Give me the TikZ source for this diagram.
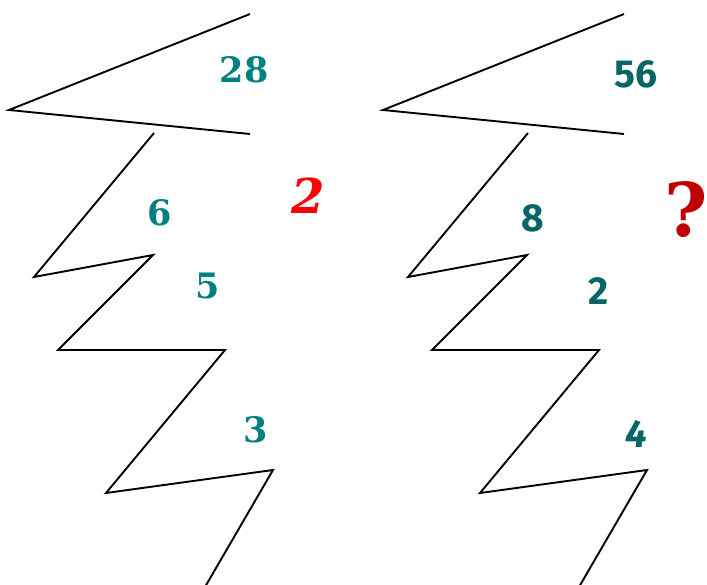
\documentclass[tikz,border=0pt]{standalone}
\usepackage{fontspec}
\setmainfont{DejaVu Serif}
\newfontfamily\rightfont{Fira Sans}
\definecolor{tealL}{HTML}{008080}
\definecolor{tealR}{HTML}{0A6666}
\definecolor{redA}{HTML}{FF0000}
\definecolor{redB}{HTML}{C00000}
\tikzset{
  zig/.style={draw=black, line width=1.9pt, line join=miter},
  numL/.style={text=tealL, font=\fontsize{35}{35}\selectfont\bfseries, inner sep=0pt},
  numR/.style={text=tealR, font=\rightfont\fontsize{39}{39}\selectfont\bfseries, inner sep=0pt},
}
\begin{document}
\begin{tikzpicture}[x=1pt,y=-1pt]
\useasboundingbox[fill=white] (0,0) rectangle (707,585);
% left figure
\coordinate (a1) at (250,14);
\coordinate (a2) at (9,110);
\coordinate (a3) at (250,134);
\draw[zig] (a1) -- (a2) -- (a3);
\coordinate (b1) at (154,133);
\coordinate (b2) at (34,277);
\coordinate (b3) at (153,255);
\coordinate (b4) at (58,350);
\coordinate (b5) at (225,350);
\coordinate (b6) at (106,493);
\coordinate (b7) at (273,470);
\coordinate (b8) at (205,587);
\draw[zig] (b1) -- (b2) -- (b3) -- (b4) -- (b5) -- (b6) -- (b7) -- (b8);
\node[numL] (n28) at (244,70) {28};
\node[numL] (n6) at (160,213) {6};
\node[numL] (n5) at (208,286) {5};
\node[numL] (n3) at (256,430) {3};
\node[inner sep=0pt, text=redA, font=\fontsize{48}{48}\selectfont\bfseries\itshape] (r2) at (308,196) {2};
% right figure
\coordinate (c1) at (624,14);
\coordinate (c2) at (383,110);
\coordinate (c3) at (624,134);
\draw[zig] (c1) -- (c2) -- (c3);
\coordinate (d1) at (528,133);
\coordinate (d2) at (408,277);
\coordinate (d3) at (527,255);
\coordinate (d4) at (432,350);
\coordinate (d5) at (599,350);
\coordinate (d6) at (480,493);
\coordinate (d7) at (647,470);
\coordinate (d8) at (579,587);
\draw[zig] (d1) -- (d2) -- (d3) -- (d4) -- (d5) -- (d6) -- (d7) -- (d8);
\node[numR] (n56) at (636,74) {56};
\node[numR] (n8) at (533,218) {8};
\node[numR] (n2) at (599,291) {2};
\node[numR, font=\rightfont\fontsize{39}{39}\selectfont\bfseries\itshape] (n4) at (636,434) {4};
\node[inner sep=0pt, text=redB, font=\fontsize{74}{74}\selectfont\bfseries] (q) at (686,210) {?};
\end{tikzpicture}
\end{document}
